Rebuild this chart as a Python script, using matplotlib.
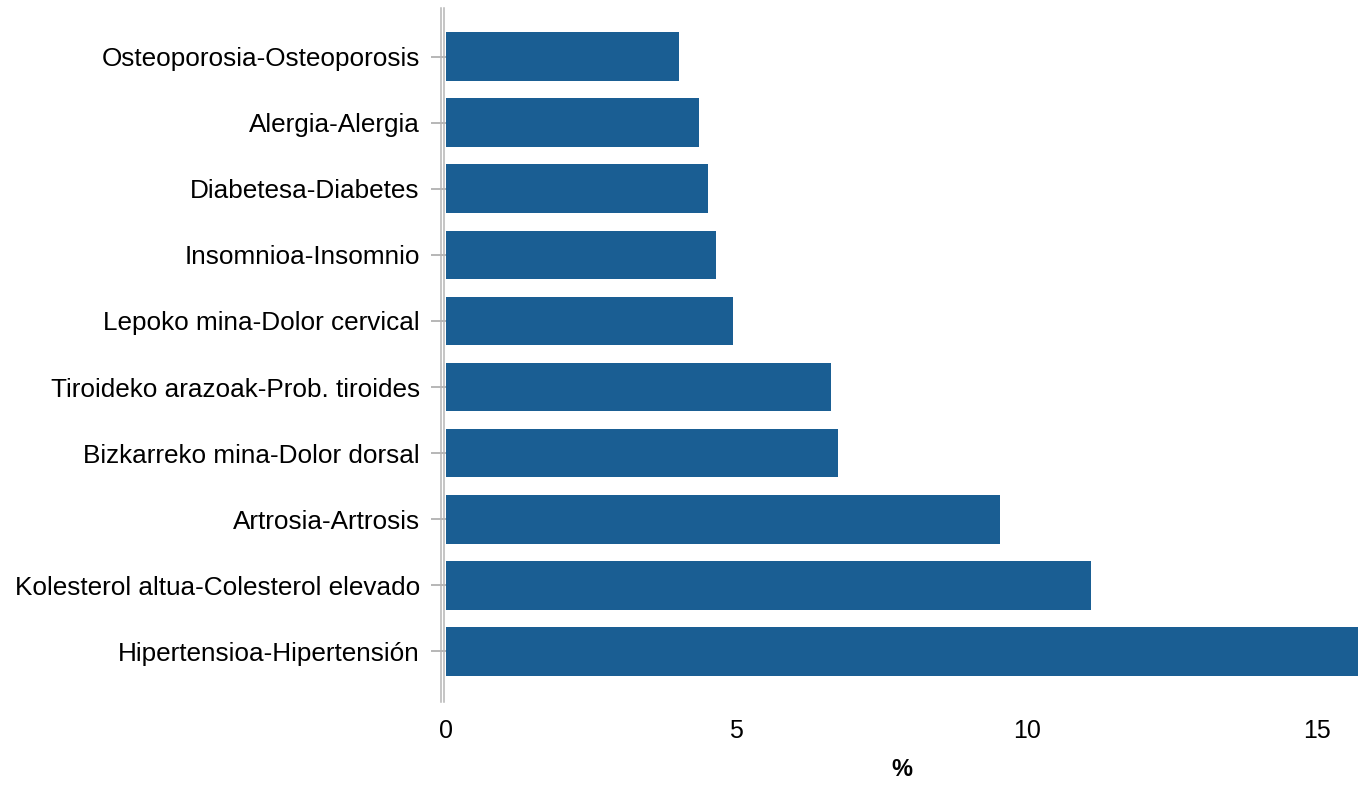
import matplotlib
matplotlib.use("Agg")
import matplotlib.pyplot as plt
import matplotlib.transforms as mtransforms
from matplotlib.lines import Line2D

categories = [
    "Hipertensioa-Hipertensión",
    "Kolesterol altua-Colesterol elevado",
    "Artrosia-Artrosis",
    "Bizkarreko mina-Dolor dorsal",
    "Tiroideko arazoak-Prob. tiroides",
    "Lepoko mina-Dolor cervical",
    "Insomnioa-Insomnio",
    "Diabetesa-Diabetes",
    "Alergia-Alergia",
    "Osteoporosia-Osteoporosis",
]
values = [15.69, 11.10, 9.54, 6.75, 6.63, 4.95, 4.66, 4.52, 4.36, 4.02]
xticks = [0, 5, 10, 15]

plt.rcParams['font.family'] = ['Liberation Sans', 'DejaVu Sans']

fig = plt.figure(figsize=(13.65, 7.85), dpi=100)
ax = fig.add_axes([445.5 / 1365, 1 - 702 / 785, (1357.5 - 445.5) / 1365, (702 - 8) / 785])

ypos = list(range(len(categories)))
ax.barh(ypos, values, height=0.74, color='#1a5e93')
ax.set_yticks(ypos)
ax.set_yticklabels(categories, fontsize=18.8)
ax.set_xticks(xticks)
ax.set_xticklabels([str(t) for t in xticks], fontsize=18)
ax.set_xlim(0, 15.69)
ax.set_ylim(-0.77, len(categories) - 1 + 0.74)
ax.set_xlabel('%', fontsize=17, fontweight='bold', labelpad=11)

for s in ['top', 'right', 'bottom', 'left']:
    ax.spines[s].set_visible(False)
ax.tick_params(axis='y', length=11, width=1.2, color='#aaaaaa', pad=7.5)
ax.tick_params(axis='x', length=0, pad=12)

# double vertical axis line
for dx in (-3.4, -0.9):
    tr = ax.get_xaxis_transform() + mtransforms.ScaledTranslation(dx / 72, 0, fig.dpi_scale_trans)
    ax.add_line(Line2D([0, 0], [0, 1], transform=tr, color='#b5b5b5', lw=1.1, clip_on=False))

fig.savefig('out.png', dpi=100)
